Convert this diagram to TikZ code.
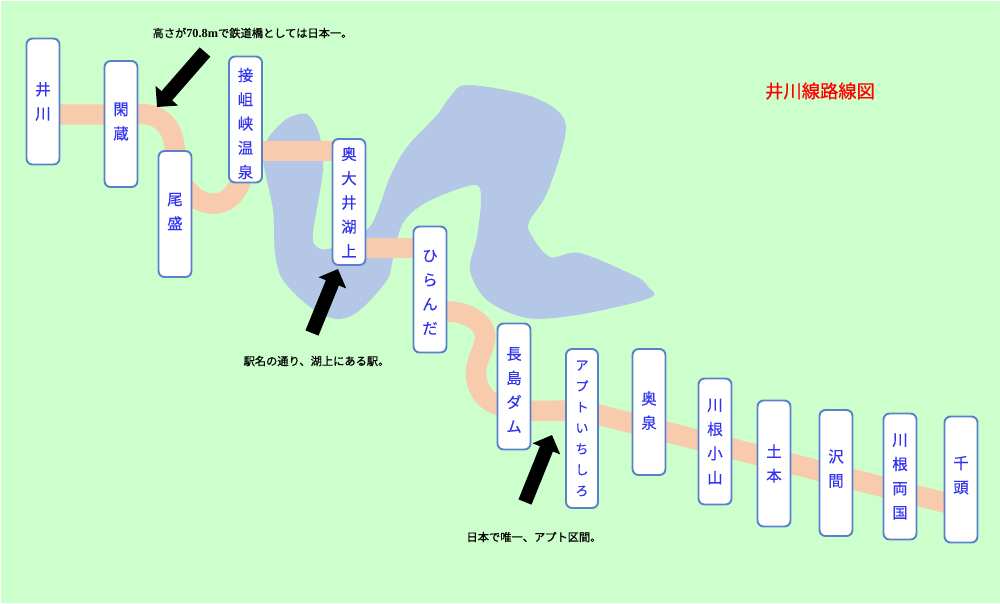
\documentclass[tikz,border=0pt]{standalone}
\usepackage{fontspec}
\usepackage{xcolor}
\usetikzlibrary{arrows.meta,calc,backgrounds}
\setmainfont{Liberation Serif}
\newfontfamily\cjk[FakeBold=.25]{Noto Sans CJK JP}
\newfontfamily\cjkheavy[FakeBold=.6]{Noto Sans CJK JP}
\definecolor{vground}{HTML}{CCFFCC}
\definecolor{vlake}{HTML}{B4C7E7}
\definecolor{vtrack}{HTML}{F8CBAD}
\definecolor{vedge}{HTML}{5B80CC}
\definecolor{vname}{HTML}{3333EE}
\newcommand{\raiseup}[1]{\rule[-#1]{0pt}{#1}}
\newcommand{\pushdown}[1]{\rule{0pt}{#1}}
\tikzset{
	station/.style={draw=vedge, line width=1.1pt, fill=white, rounded corners=3.4pt, inner sep=0pt,
		minimum width=.66cm, minimum height=2.52cm, align=center, text=vname, font=\cjk\fontsize{8.8}{13.8}\selectfont},
	longstation/.style={station, minimum height=3.18cm, minimum width=.64cm, font=\cjk\fontsize{7.4}{11.9}\selectfont},
	track/.style={color=vtrack, line width=11.6pt},
	pointer/.style={line width=8pt, -{Triangle[length=8.5pt,width=16.5pt]}},
	remark/.style={inner sep=0pt, font=\cjkheavy\fontsize{6.4}{7}\selectfont}
}
\begin{document}
\begin{tikzpicture}[x=.02cm, y=-.02cm]
	\useasboundingbox (0,0) rectangle (1000,603);
	\node[station] (ikawa) at (43,101.5) {井\\川};
	\node[station] (kanzo) at (121,124) {閑\\蔵\raiseup{3.4pt}};
	\node[station] (omori) at (175,214) {尾\\盛\raiseup{3.4pt}};
	\node[station] (sessokyo) at (245.5,119.5) {\pushdown{12pt}接\\岨\\峡\\温\\泉};
	\node[station] (okuoi) at (349,202) {奥\\大\\井\\湖\\上};
	\node[station] (hiranda) at (430,289.5) {\pushdown{9.8pt}ひ\\ら\\ん\\だ};
	\node[station] (nagashima) at (514,386.5) {\pushdown{11pt}長\\島\\ダ\\ム};
	\node[longstation] (abt) at (582,428.5) {ア\\プ\\ト\\い\\ち\\し\\ろ};
	\node[station] (okuizumi) at (649,412) {奥\\泉\raiseup{2.3pt}};
	\node[station] (oyama) at (715,441.5) {川\\根\\小\\山};
	\node[station] (domoto) at (774,463.5) {土\\本};
	\node[station] (sawama) at (836,473) {沢\\間\raiseup{5.7pt}};
	\node[station] (ryogoku) at (900,476.5) {川\\根\\両\\国};
	\node[station] (senzu) at (961,479.5) {千\\頭\raiseup{5.7pt}};
	\node[remark] (note1) at (252.5,33) {高さが{\rmfamily\bfseries\fontsize{7}{7}\selectfont 70.8m}で鉄道橋としては日本一。};
	\node[remark] (note2) at (316.5,361) {駅名の通り、湖上にある駅。};
	\node[remark] (note3) at (534,537) {日本で唯一、アプト区間。};
	\node[inner sep=0pt, text=red, font=\cjkheavy\fontsize{10.4}{12}\selectfont] (title) at (820,91) {井川線路線図};
	\coordinate (ridge) at (485,340);
	\coordinate (hollow) at (476,373);
	\coordinate (tail1) at (205,52);
	\coordinate (tip1) at (157,107);
	\coordinate (tail2) at (312,333);
	\coordinate (tip2) at (338,269);
	\coordinate (tail3) at (525,502);
	\coordinate (tip3) at (552,435);
	\begin{scope}[on background layer]
		\fill[color=vground] (.8,.8) rectangle (1000,603);
		% lake
		\fill[color=vlake] plot[smooth cycle, tension=.55] coordinates {
			(303,113.5) (285,120) (267,140) (263,160) (273,210) (275,253) (283,280) (310,307) (337,319) (360,310) (387,280)
			(393,258) (403,223) (427,202) (473,185) (481,197) (477,237) (470,270) (487,300) (527,318) (577,315)
			(637,302) (654,295) (648,287) (637,277) (580,253) (550,257) (530,233) (530,220) (547,193) (565,137) (560,113)
			(527,95) (467,85) (450,97) (437,115) (407,147) (390,177) (377,213) (366,230) (332,248) (317,247)
			(313,233) (323,170) (320,137) (312,119)};
		% track
		\draw[track] ($(ikawa)+(0,13)$) -- ($(kanzo)+(0,-9.5)$);
		\draw[track] ($(kanzo)+(0,-10)$) -- ($(kanzo)+(20,-10)$) .. controls ($(kanzo)+(42,-10)$) and ($(omori)+(0,-84)$) .. ($(omori)+(0,-60)$);
		\draw[track] ($(omori)+(6,-34)$) .. controls ($(omori)+(17,-7)$) and ($(sessokyo)+(-13.5,98.5)$) .. ($(sessokyo)+(-3,55)$);
		\draw[track] ($(sessokyo)+(0,31.5)$) -- ($(okuoi)+(0,-51)$);
		\draw[track] ($(okuoi)+(0,46)$) -- ($(hiranda)+(0,-41.5)$);
		\draw[track] ($(hiranda)+(0,22)$) -- ($(hiranda)+(17,22)$) .. controls ($(hiranda)+(40,22)$) and (488,325) .. (ridge)
			.. controls (483,352) and (476,360) .. (hollow) .. controls (476,390) and (487,405) .. ($(nagashima)+(-9,19.5)$);
		\draw[track] ($(nagashima)+(-9,24.5)$) -- ($(abt)+(0,-18)$);
		\foreach \from/\fromy/\to/\toy in {abt/-18/okuizumi/15.5, okuizumi/15.5/oyama/2.7, oyama/2.7/domoto/-4.3,
			domoto/-4.3/sawama/2, sawama/2/ryogoku/14.7, ryogoku/14.7/senzu/27.2}
			\draw[track] ($(\from)+(0,\fromy)$) -- ($(\to)+(0,\toy)$);
	\end{scope}
	\draw[pointer] (tail1) -- (tip1);
	\draw[pointer] (tail2) -- (tip2);
	\draw[pointer] (tail3) -- (tip3);
\end{tikzpicture}
\end{document}
